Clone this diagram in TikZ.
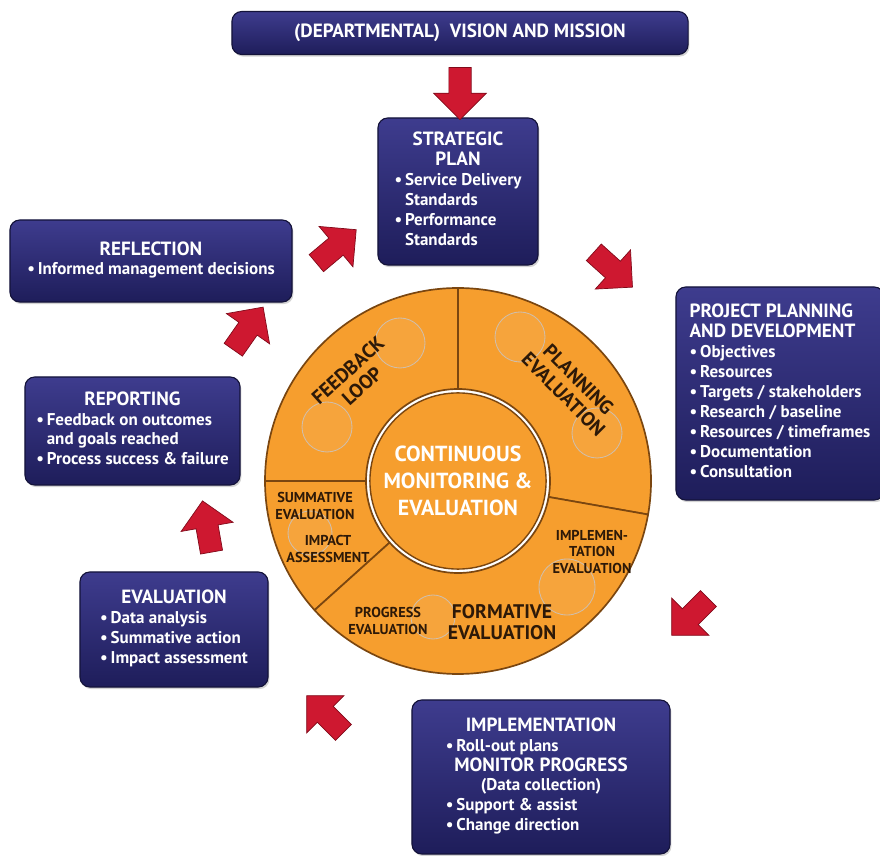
\documentclass[tikz,border=0pt]{standalone}
\usepackage{fontspec}
\setmainfont{PT Sans}
\usetikzlibrary{arrows.meta,positioning,calc,shapes.arrows,shadows}
\definecolor{NavyTop}{RGB}{62,60,142}
\definecolor{NavyLow}{RGB}{30,29,90}
\definecolor{NavyEdge}{RGB}{20,19,58}
\definecolor{ArrowRed}{RGB}{206,24,48}
\definecolor{RedEdge}{RGB}{128,10,26}
\definecolor{Orange}{RGB}{246,158,46}
\definecolor{OrangeEdge}{RGB}{122,70,16}
\definecolor{Brown}{RGB}{45,25,8}
\newcommand{\itm}{•\,}
\newcommand{\ttl}[1]{\multicolumn{1}{c}{\fontsize{13.6}{15}\selectfont #1}}
\tikzset{
  >=Latex,
  box/.style={rounded corners=7pt,draw=NavyEdge,line width=.8pt,top color=NavyTop,bottom color=NavyLow,text=white,font=\bfseries\fontsize{12.1}{14.2}\selectfont,inner sep=2pt,drop shadow={opacity=.35,shadow xshift=1pt,shadow yshift=-1.5pt}},
  redarrow/.style={single arrow,draw=RedEdge,line width=.5pt,fill=ArrowRed,minimum height=1.3cm,minimum width=1.3cm,single arrow head extend=.38cm,inner xsep=0pt,inner ysep=.27cm},
  seg/.style={fill=Orange,draw=OrangeEdge,line width=1.2pt,line join=round},
  bubble/.style={draw=OrangeEdge!35,line width=.6pt,fill=white,fill opacity=.07},
  core/.style={circle,fill=Orange,draw=OrangeEdge,line width=1pt,text=white,align=center,font=\bfseries\fontsize{15.5}{19}\selectfont},
  ringlabel/.style={text=Brown,align=center,font=\bfseries\fontsize{10.2}{11.5}\selectfont},
  ringtitle/.style={ringlabel,font=\bfseries\fontsize{14}{15}\selectfont}
}
\begin{document}
\begin{tikzpicture}[x=0.025cm,y=0.025cm]
  \useasboundingbox (0,0) rectangle (880,855);
  \coordinate (ctr) at (458,374);
  % ring of four segments
  \foreach \a/\b in {-10/90,90/180,180/222,222/350}
    \draw[seg] ($(ctr)+(\a:193)$) arc[start angle=\a,end angle=\b,radius=193]
      -- ($(ctr)+(\b:92)$) arc[start angle=\b,end angle=\a,radius=92] -- cycle;
  \foreach \bx/\by/\br in {400/512/25,327/428/25,520/518/25,597/422/25,310/322/22,567/268/28,433/238/22}
    \draw[bubble] (\bx,\by) circle[radius=\br];
  \node[core,minimum size=4.2cm] (cme) at (ctr) {CONTINUOUS\\MONITORING \&\\EVALUATION};
  \node[ringtitle,rotate=42] (feedback) at (355,477) {FEEDBACK\\LOOP};
  \node[ringtitle,rotate=-45] (planeval) at (571,468) {PLANNING\\EVALUATION};
  \node[ringlabel] (summative) at (315,349) {SUMMATIVE\\EVALUATION};
  \node[ringlabel] (impact) at (328,306) {IMPACT\\ASSESSMENT};
  \node[ringlabel] (impleval) at (592,303) {IMPLEMEN-\\TATION\\EVALUATION};
  \node[ringlabel] (progress) at (388,234) {PROGRESS\\EVALUATION};
  \node[ringtitle] (formative) at (502,233) {FORMATIVE\\EVALUATION};
  % boxes
  \node[box,font=\bfseries\fontsize{13.6}{15}\selectfont,minimum width=11.4cm,minimum height=1.075cm] (vision) at (460,822) {(DEPARTMENTAL)\ \ VISION AND MISSION};
  \node[box,minimum width=4cm,minimum height=3.675cm] (strategic) at (458,663.5) {\begin{tabular}{@{}l@{}}\ttl{STRATEGIC}\\\ttl{PLAN}\\\itm Service Delivery\\\phantom{\itm}Standards\\\itm Performance\\\phantom{\itm}Standards\end{tabular}};
  \node[box,minimum width=5.2cm,minimum height=5.325cm] (project) at (780,461.5) {\begin{tabular}{@{}l@{}}{\fontsize{13.6}{15}\selectfont PROJECT PLANNING}\\{\fontsize{13.6}{15}\selectfont AND DEVELOPMENT}\\\itm Objectives\\\itm Resources\\\itm Targets / stakeholders\\\itm Research / baseline\\\itm Resources / timeframes\\\itm Documentation\\\itm Consultation\end{tabular}};
  \node[box,minimum width=6.45cm,minimum height=3.85cm] (implement) at (541,78) {\begin{tabular}{@{}l@{}}\ttl{IMPLEMENTATION}\\\itm Roll-out plans\\\ttl{MONITOR PROGRESS}\\\multicolumn{1}{c}{(Data collection)}\\\itm Support \& assist\\\itm Change direction\end{tabular}};
  \node[box,minimum width=4.7cm,minimum height=2.875cm] (evaluation) at (174,225.5) {\begin{tabular}{@{}l@{}}\ttl{EVALUATION}\\\itm Data analysis\\\itm Summative action\\\itm Impact assessment\end{tabular}};
  \node[box,minimum width=5.375cm,minimum height=2.7cm] (reporting) at (132.5,424) {\begin{tabular}{@{}l@{}}\ttl{REPORTING}\\\itm Feedback on outcomes\\\phantom{\itm}and goals reached\\\itm Process success \& failure\end{tabular}};
  \node[box,minimum width=7.05cm,minimum height=2.05cm] (reflection) at (151,594) {\begin{tabular}{@{}l@{}}\ttl{REFLECTION}\\\itm Informed management decisions\end{tabular}};
  % red block arrows round the cycle
  \node[redarrow,rotate=270] (arrVision) at (460,767) {};
  \node[redarrow,rotate=-42] (arrStrategic) at (609,589) {};
  \node[redarrow,rotate=225] (arrProject) at (694,242) {};
  \node[redarrow,rotate=135] (arrImplement) at (329,137) {};
  \node[redarrow,rotate=100] (arrEvaluation) at (208,323) {};
  \node[redarrow,rotate=55] (arrReporting) at (245,522) {};
  \node[redarrow,rotate=40] (arrReflection) at (332,605) {};
\end{tikzpicture}
\end{document}
